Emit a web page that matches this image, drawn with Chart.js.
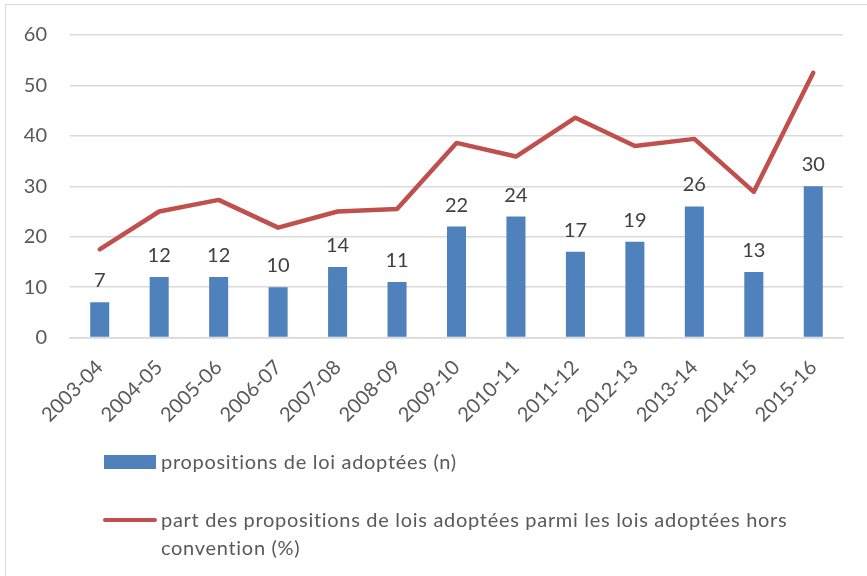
<!DOCTYPE html>
<html>
<head>
<meta charset="utf-8">
<script src="https://cdn.jsdelivr.net/npm/chart.js@4"></script>
<style>
  body { margin: 0; background: #fff; }
  #wrap { position: relative; width: 867px; height: 576px; overflow: hidden; }
  #frame { position: absolute; left: 5px; top: 4px; width: 870px; height: 580px; border: 1px solid #D9D9D9; box-sizing: border-box; }
  #chart { position: absolute; left: 0; top: 0; }
  .leg { position: absolute; font-family: Lato, sans-serif; font-size: 20px; letter-spacing: 0.7px; color: #595959; line-height: 28px; }
  .sw { position: absolute; }
</style>
</head>
<body>
<div id="wrap">
  <div id="frame"></div>
  <canvas id="chart" width="867" height="576"></canvas>
  <div class="sw" style="left:104px;top:455px;width:52px;height:14px;background:#4F81BD"></div>
  <div class="leg" style="left:161px;top:447px;">propositions de loi adoptées (n)</div>
  <div class="sw" style="left:103px;top:518px;width:54px;height:4px;border-radius:2px;background:#C0504D"></div>
  <div class="leg" style="left:161px;top:505px;width:670px;">part des propositions de lois adoptées parmi les lois adoptées hors convention (%)</div>
</div>
<script>
// données
var years = ['2003-04','2004-05','2005-06','2006-07','2007-08','2008-09','2009-10','2010-11','2011-12','2012-13','2013-14','2014-15','2015-16'];
var adoptees = [7, 12, 12, 10, 14, 11, 22, 24, 17, 19, 26, 13, 30];
var partPct = [17.5, 25.0, 27.3, 21.8, 25.0, 25.5, 38.6, 35.9, 43.6, 38.0, 39.4, 28.9, 52.5];
var yTicks = [0, 10, 20, 30, 40, 50, 60];

var fontFam = 'Lato, sans-serif';

// étiquettes au-dessus des barres
var barLabels = {
    id: 'barLabels',
    afterDatasetsDraw: function (chart) {
        var ctx = chart.ctx;
        var meta = chart.getDatasetMeta(1);
        ctx.save();
        ctx.font = '20px ' + fontFam;
        ctx.fillStyle = '#404040';
        ctx.textAlign = 'center';
        ctx.textBaseline = 'alphabetic';
        meta.data.forEach(function (bar, i) {
            ctx.fillText(adoptees[i], bar.x, bar.y - 15);
        });
        ctx.restore();
    }
};

var ctx = document.getElementById('chart').getContext('2d');
var chart = new Chart(ctx, {
    type: 'bar',
    data: {
        labels: years,
        datasets: [{
            type: 'line',
            label: 'part des propositions de lois adoptées parmi les lois adoptées hors convention (%)',
            data: partPct,
            borderColor: '#C0504D',
            borderWidth: 4.5,
            pointRadius: 0,
            tension: 0,
            borderCapStyle: 'round',
            borderJoinStyle: 'round',
            order: 0
        }, {
            label: 'propositions de loi adoptées (n)',
            data: adoptees,
            backgroundColor: '#4F81BD',
            categoryPercentage: 1,
            barPercentage: 0.32,
            order: 1
        }]
    },
    options: {
        animation: false,
        responsive: false,
        layout: { padding: { left: 5, top: 24, right: 24, bottom: 139 } },
        plugins: {
            legend: { display: false },
            tooltip: { enabled: false }
        },
        scales: {
            x: {
                grid: { display: false },
                border: { color: '#D9D9D9', width: 1.5 },
                ticks: {
                    color: '#595959',
                    font: { family: fontFam, size: 20 },
                    minRotation: 45,
                    maxRotation: 45,
                    padding: 10
                }
            },
            y: {
                min: 0,
                max: 60,
                afterBuildTicks: function (s) {
                    s.ticks = yTicks.map(function (v) { return { value: v }; });
                },
                afterFit: function (s) { s.width = 65; },
                grid: { color: '#D9D9D9', lineWidth: 1.5, drawTicks: false },
                border: { display: false },
                ticks: {
                    color: '#595959',
                    font: { family: fontFam, size: 20 },
                    padding: 23
                }
            }
        }
    },
    plugins: [barLabels]
});
</script>
</body>
</html>
